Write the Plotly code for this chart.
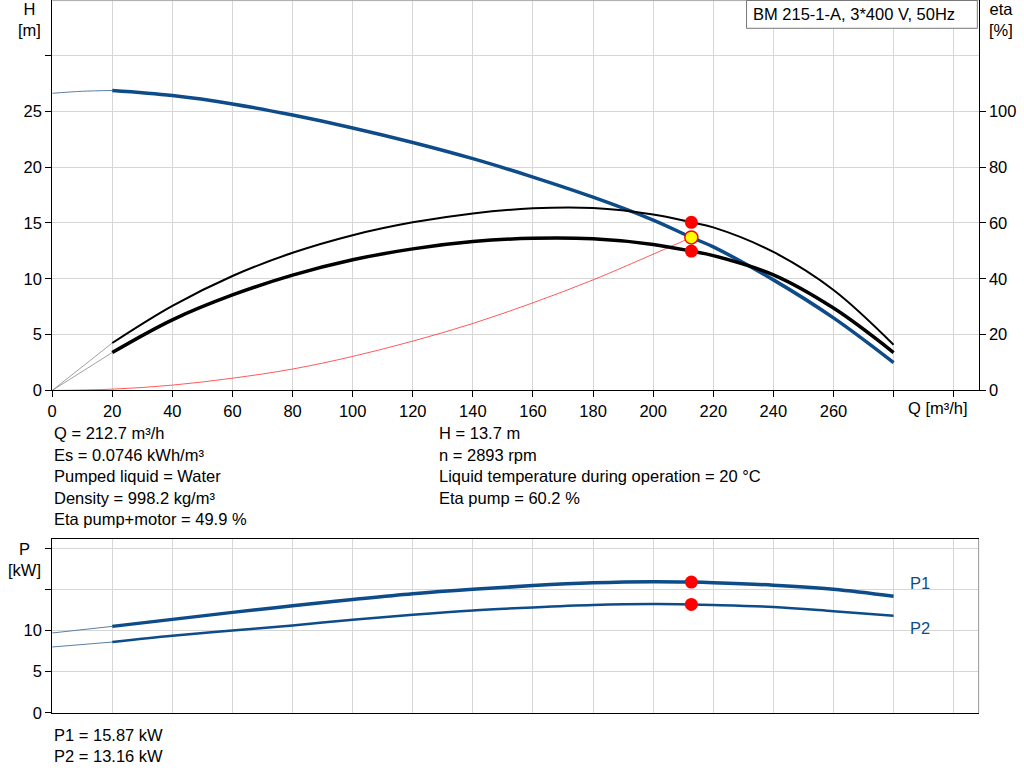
import plotly.graph_objects as go

# --- data ---
q_pts = [20, 40, 60, 80, 100, 120, 140, 160, 180, 200, 212.7, 220, 240, 260, 280]
head = [26.85, 26.4, 25.65, 24.65, 23.5, 22.2, 20.75, 19.1, 17.3, 15.25, 13.7, 12.85, 9.9, 6.5, 2.5]
eta_pump = [17.0, 30.3, 41.0, 49.3, 55.6, 60.2, 63.4, 65.2, 65.3, 63.0, 60.2, 58.4, 49.6, 36.0, 16.4]
eta_total = [13.6, 25.3, 34.2, 41.3, 46.8, 50.7, 53.3, 54.5, 54.3, 52.3, 49.9, 48.3, 41.4, 29.5, 13.6]
p1 = [10.5, 11.35, 12.2, 13.0, 13.75, 14.45, 15.0, 15.45, 15.78, 15.92, 15.87, 15.8, 15.5, 15.0, 14.15]
p2 = [8.6, 9.35, 10.0, 10.62, 11.3, 11.92, 12.44, 12.8, 13.08, 13.2, 13.16, 13.1, 12.85, 12.35, 11.8]

q_low = [0, 10, 20]
head_low = [26.6, 26.78, 26.85]
eta_pump_low = [0, 8.5, 17.0]
eta_total_low = [0, 6.8, 13.6]
p1_low = [9.7, 10.1, 10.5]
p2_low = [8.0, 8.3, 8.6]

q_sys = [0, 20, 40, 60, 80, 100, 120, 140, 160, 180, 200, 212.7]
h_sys = [0, 0.12, 0.48, 1.1, 1.92, 3.05, 4.42, 6.0, 7.85, 9.9, 12.2, 13.7]

q_duty = 212.7
h_duty = 13.7
eta_pump_duty = 60.2
eta_total_duty = 49.9
p1_duty = 15.87
p2_duty = 13.16

x_ticks = list(range(0, 301, 20))
x_labels = [str(v) if v <= 260 else '' for v in x_ticks]
h_ticks = [0, 5, 10, 15, 20, 25, 30]
h_labels = ['0', '5', '10', '15', '20', '25', '']
eta_ticks = [0, 20, 40, 60, 80, 100]
p_ticks = [0, 5, 10, 15, 20]
p_labels = ['0', '5', '10', '', '']

info_left = ['Q = 212.7 m³/h', 'Es = 0.0746 kWh/m³', 'Pumped liquid = Water',
             'Density = 998.2 kg/m³', 'Eta pump+motor = 49.9 %']
info_right = ['H = 13.7 m', 'n = 2893 rpm',
              'Liquid temperature during operation = 20 °C', 'Eta pump = 60.2 %']
power_text = ['P1 = 15.87 kW', 'P2 = 13.16 kW']

W, H = 1024, 781
BLUE = '#0d4c88'
THIN = '#5b7ea6'
FONT = 'Liberation Sans, Arial, sans-serif'
FS = 16.5


# pixel positions, with a small correction for
# how the page ends up in the screenshot
def px(x):
    return ((x - 4.5) / 0.996) / W


def py(y):
    return 1 - (y / 0.989) / H


fig = go.Figure()

# top chart: head, efficiency, system curve
fig.add_trace(go.Scatter(x=q_sys, y=h_sys, mode='lines', line=dict(color='#ff3030', width=0.8, shape='spline'),
                         xaxis='x', yaxis='y'))
fig.add_trace(go.Scatter(x=q_low, y=head_low, mode='lines', line=dict(color=THIN, width=1, shape='spline'),
                         xaxis='x', yaxis='y'))
fig.add_trace(go.Scatter(x=q_pts, y=head, mode='lines', line=dict(color=BLUE, width=3.5, shape='spline'),
                         xaxis='x', yaxis='y'))
fig.add_trace(go.Scatter(x=q_low, y=eta_pump_low, mode='lines', line=dict(color='#888888', width=0.8),
                         xaxis='x', yaxis='y3'))
fig.add_trace(go.Scatter(x=q_low, y=eta_total_low, mode='lines', line=dict(color='#888888', width=0.8),
                         xaxis='x', yaxis='y3'))
fig.add_trace(go.Scatter(x=q_pts, y=eta_pump, mode='lines', line=dict(color='black', width=2, shape='spline'),
                         xaxis='x', yaxis='y3'))
fig.add_trace(go.Scatter(x=q_pts, y=eta_total, mode='lines', line=dict(color='black', width=3.5, shape='spline'),
                         xaxis='x', yaxis='y3'))
fig.add_trace(go.Scatter(x=[q_duty, q_duty], y=[eta_pump_duty, eta_total_duty], mode='markers',
                         marker=dict(color='#ff0000', size=13), xaxis='x', yaxis='y3'))
fig.add_trace(go.Scatter(x=[q_duty], y=[h_duty], mode='markers',
                         marker=dict(color='#ffff00', size=13, line=dict(color='#ff0000', width=1.5)),
                         xaxis='x', yaxis='y'))

# bottom chart: power
fig.add_trace(go.Scatter(x=q_low, y=p1_low, mode='lines', line=dict(color=THIN, width=1),
                         xaxis='x2', yaxis='y2'))
fig.add_trace(go.Scatter(x=q_low, y=p2_low, mode='lines', line=dict(color=THIN, width=1),
                         xaxis='x2', yaxis='y2'))
fig.add_trace(go.Scatter(x=q_pts, y=p1, mode='lines', line=dict(color=BLUE, width=3.5, shape='spline'),
                         xaxis='x2', yaxis='y2'))
fig.add_trace(go.Scatter(x=q_pts, y=p2, mode='lines', line=dict(color=BLUE, width=2.5, shape='spline'),
                         xaxis='x2', yaxis='y2'))
fig.add_trace(go.Scatter(x=[q_duty, q_duty], y=[p1_duty, p2_duty], mode='markers',
                         marker=dict(color='#ff0000', size=13), xaxis='x2', yaxis='y2'))

x_dom = [px(51.7), px(979)]
x_rng = [0, 308.3]
grid = '#d6d6d6'
tickf = dict(family=FONT, size=FS, color='black')

annotations = []
rows = [433.5, 455, 476.5, 498, 519.5]
for i, t in enumerate(info_left):
    annotations.append(dict(x=px(52), y=py(rows[i]), text=t))
for i, t in enumerate(info_right):
    annotations.append(dict(x=px(437), y=py(rows[i]), text=t))
annotations.append(dict(x=px(52), y=py(735), text=power_text[0]))
annotations.append(dict(x=px(52), y=py(756.5), text=power_text[1]))
annotations.append(dict(x=px(906), y=py(408), text='Q [m³/h]'))
annotations.append(dict(x=px(751), y=py(14.5), text='BM 215-1-A, 3*400 V, 50Hz'))
annotations.append(dict(x=px(908), y=py(583), text='P1', font=dict(family=FONT, size=FS, color=BLUE)))
annotations.append(dict(x=px(908), y=py(628), text='P2', font=dict(family=FONT, size=FS, color=BLUE)))
annotations.append(dict(x=px(29), y=py(20), text='H<br>[m]', xanchor='center'))
annotations.append(dict(x=px(1001), y=py(20), text='eta<br>[%]', xanchor='center'))
annotations.append(dict(x=px(24), y=py(560), text='P<br>[kW]', xanchor='center'))
for a in annotations:
    a.setdefault('xanchor', 'left')
    a.update(xref='paper', yref='paper', yanchor='middle', showarrow=False)
    a.setdefault('font', dict(family=FONT, size=FS, color='black'))

fig.update_layout(
    width=W, height=H,
    margin=dict(l=0, r=0, t=0, b=0),
    paper_bgcolor='white', plot_bgcolor='white',
    showlegend=False,
    font=dict(family=FONT, size=FS, color='black'),
    xaxis=dict(domain=x_dom, range=x_rng, tickvals=x_ticks, ticktext=x_labels,
               showgrid=True, gridcolor=grid, showline=True, linecolor='black', linewidth=1,
               ticks='outside', ticklen=6, tickcolor='black', tickfont=tickf, zeroline=False,
               anchor='y'),
    yaxis=dict(domain=[py(390.7), 1], range=[0, 34.95], tickvals=h_ticks, ticktext=h_labels,
               showgrid=True, gridcolor=grid, showline=True, linecolor='black', linewidth=1,
               ticks='outside', ticklen=6, tickcolor='black', tickfont=tickf, zeroline=False,
               anchor='x'),
    yaxis3=dict(overlaying='y', side='right', range=[0, 139.8], tickvals=eta_ticks,
                showgrid=False, showline=True, linecolor='black', linewidth=1,
                ticks='outside', ticklen=6, tickcolor='black', tickfont=tickf, zeroline=False,
                anchor='x'),
    xaxis2=dict(domain=x_dom, range=x_rng, tickvals=x_ticks, showticklabels=False,
                showgrid=True, gridcolor=grid, showline=True, linecolor='black', linewidth=1,
                mirror=True, ticks='', zeroline=False, anchor='y2'),
    yaxis2=dict(domain=[py(713.3), py(539.3)], range=[0, 21.1], tickvals=p_ticks, ticktext=p_labels,
                showgrid=True, gridcolor=grid, showline=True, linecolor='black', linewidth=1,
                ticks='outside', ticklen=6, tickcolor='black', tickfont=tickf, zeroline=False,
                anchor='x2'),
    annotations=annotations,
    shapes=[
        dict(type='line', xref='paper', yref='paper', x0=px(51.7), x1=px(979), y0=py(0.6), y1=py(0.6),
             line=dict(color='#aaaaaa', width=1)),
        dict(type='rect', xref='paper', yref='paper', x0=px(746.7), x1=px(977.7), y0=py(28.3), y1=py(0.5),
             line=dict(color='#777777', width=1), fillcolor='white', layer='above'),
        dict(type='line', xref='paper', yref='paper', x0=px(979), x1=px(979), y0=py(713.3), y1=py(539.3),
             line=dict(color='#999999', width=1)),
    ],
)

# page without default body margin, sized exactly to the figure
page_fix = (
    "var s=document.createElement('style');"
    "s.textContent='html,body{margin:0;padding:0;overflow:hidden;width:1024px;height:781px;}"
    "body>div{height:781px;overflow:hidden;}.plotly-graph-div{display:block;}';"
    "document.head.appendChild(s);"
)
fig.write_html("out.html", config={'displayModeBar': False}, post_script=page_fix)
